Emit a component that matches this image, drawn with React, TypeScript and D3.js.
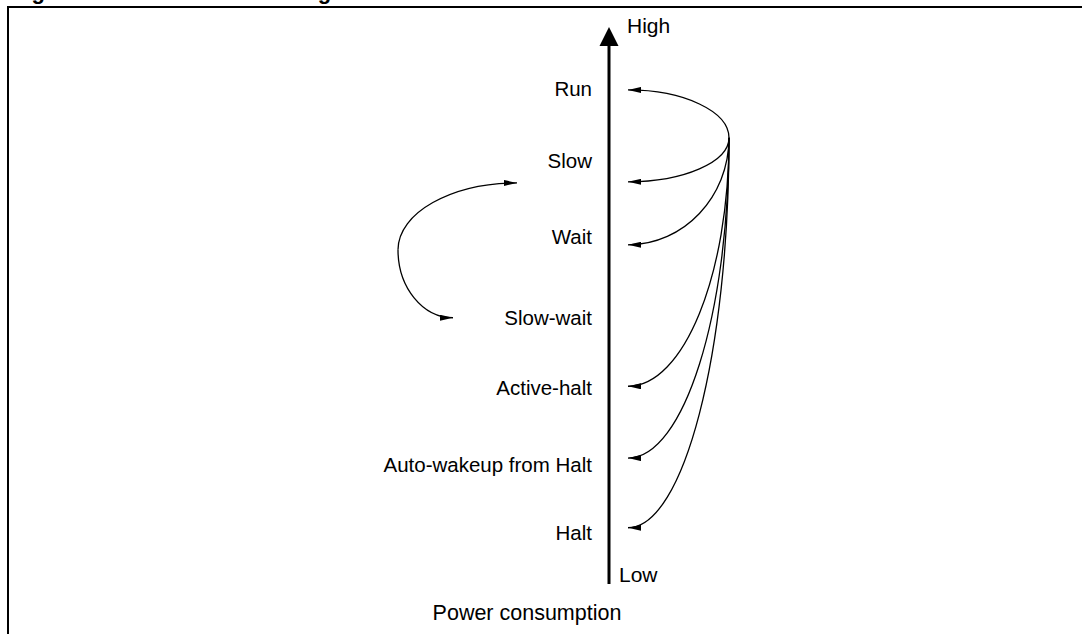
import React from 'react';
import * as d3 from 'd3';

// power modes, from highest to lowest consumption
const modes = ['Run', 'Slow', 'Wait', 'Slow-wait', 'Active-halt', 'Auto-wakeup from Halt', 'Halt'];
// where each label sits on the power axis (0 = low, 100 = high)
const labelLevel = [89.0, 76.1, 62.3, 47.9, 35.2, 21.4, 9.3];
// where the wakeup arrow lands for each mode (null = no arrow)
const arrowLevel = [88.7, 72.2, 60.9, null, 35.5, 22.6, 10.1];
// common origin of the wakeup arrows
const sourceLevel = 80.1;
// the Slow <-> Slow-wait loop: start, apex, end levels
const loopLevels = [72.0, 60.0, 47.8];

const axisTitle = 'Power consumption';
const highLabel = 'High';
const lowLabel = 'Low';
const figTitle = 'Figure 12. Power mode settings';

const W = 1082;
const H = 634;
const font = '"Liberation Sans", Arial, Helvetica, sans-serif';

const App = () => {
  const y = d3.scaleLinear().domain([0, 100]).range([584, 27]);
  const axisX = 609;
  const tipX = axisX + 19;
  const srcX = axisX + 120;
  const loopX = 398;
  const loopTopX = 517;
  const loopBotX = 453;
  const k = 0.5523;

  // quarter ellipse: leaves (x0,y0) vertically, arrives at (x1,y1) horizontally
  const quarter = (x0: number, y0: number, x1: number, y1: number) => {
    const p = d3.path();
    p.moveTo(x0, y0);
    p.bezierCurveTo(x0, y0 + k * (y1 - y0), x1 + k * (x0 - x1), y1, x1, y1);
    return p.toString();
  };

  const arrows = modes
    .map((m, i) => ({ m, lv: arrowLevel[i] }))
    .filter((d) => d.lv !== null);

  return (
    <svg width={W} height={H} style={{ position: 'absolute', left: 0, top: 0 }}>
      <defs>
        <marker id="ah" viewBox="0 0 13 6" refX={13} refY={3} markerWidth={13} markerHeight={6}
          markerUnits="userSpaceOnUse" orient="auto">
          <path d="M0,0 L13,3 L0,6 Z" fill="#000" />
        </marker>
      </defs>

      {/* caption sits above the crop, only its descenders show */}
      <text x={12} y={-1} fontFamily={font} fontWeight="bold" fontSize={22}>{figTitle}</text>

      {/* frame */}
      <line x1={8} y1={7} x2={W} y2={7} stroke="#000" strokeWidth={2} />
      <line x1={8} y1={6} x2={8} y2={H} stroke="#000" strokeWidth={2} />

      {/* power axis */}
      <line x1={axisX} y1={y(0)} x2={axisX} y2={y(100) + 16} stroke="#000" strokeWidth={3} />
      <path d={`M${axisX},${y(100)} L${axisX - 9.5},${y(100) + 19} L${axisX + 9.5},${y(100) + 19} Z`} fill="#000" />
      <text x={axisX + 18} y={y(100) + 6} fontFamily={font} fontSize={21}>{highLabel}</text>
      <text x={axisX + 10} y={y(0) - 2} fontFamily={font} fontSize={21}>{lowLabel}</text>
      <text x={527} y={620} textAnchor="middle" fontFamily={font} fontSize={21.5}>{axisTitle}</text>

      {modes.map((m, i) => (
        <text key={m} x={592} y={y(labelLevel[i])} dy="0.36em" textAnchor="end" fontFamily={font} fontSize={20.5}>
          {m}
        </text>
      ))}

      {arrows.map((d) => (
        <path key={d.m} d={quarter(srcX, y(sourceLevel), tipX, y(d.lv as number))}
          fill="none" stroke="#000" strokeWidth={1.3} markerEnd="url(#ah)" />
      ))}

      {/* Slow <-> Slow-wait loop */}
      <path d={quarter(loopX, y(loopLevels[1]), loopTopX, y(loopLevels[0]))}
        fill="none" stroke="#000" strokeWidth={1.3} markerEnd="url(#ah)" />
      <path d={quarter(loopX, y(loopLevels[1]), loopBotX, y(loopLevels[2]))}
        fill="none" stroke="#000" strokeWidth={1.3} markerEnd="url(#ah)" />
    </svg>
  );
};

export default App;
